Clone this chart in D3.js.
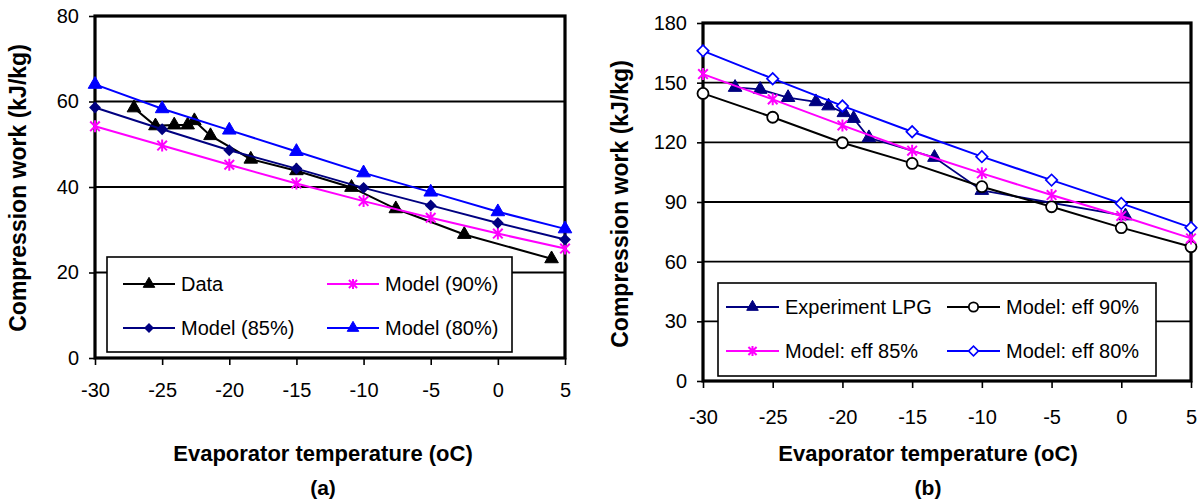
<!DOCTYPE html>
<html>
<head>
<meta charset="utf-8">
<script src="https://cdn.jsdelivr.net/npm/d3@7"></script>
<style>
  body { margin: 0; background: #fff; }
  text { font-family: "Liberation Sans", Arial, sans-serif; fill: #000; }
</style>
</head>
<body>
<script>
// ---- data ----
var temps = [-30, -25, -20, -15, -10, -5, 0, 5];
var xTicks = [-30, -25, -20, -15, -10, -5, 0, 5];

// panel (a)
var dataT  = [-27.1, -25.5, -24.1, -23.1, -22.6, -21.4, -18.4, -15.0, -10.9, -7.6, -2.5, 4.0];
var dataW  = [58.5, 54.3, 54.5, 54.5, 55.5, 52, 46.5, 43.8, 39.9, 34.9, 28.9, 23.2];
var model90a = [54.2, 49.7, 45.2, 40.8, 36.7, 32.8, 29.1, 25.6];
var model85a = [58.6, 53.5, 48.6, 44.3, 39.8, 35.7, 31.6, 27.7];
var model80a = [64.0, 58.3, 53.3, 48.3, 43.3, 38.8, 34.2, 30.2];
var yTicksA = [0, 20, 40, 60, 80];

// panel (b)
var expT = [-27.7, -25.9, -23.9, -21.9, -21.0, -19.9, -19.2, -18.1, -13.4, -10.0, 0.3];
var expW = [147.6, 146.6, 142.5, 140.4, 138.3, 134.9, 132, 122.3, 112.4, 95.8, 83];
var model90b = [144.6, 132.6, 119.8, 109.4, 97.7, 87.6, 77.1, 67.5];
var model85b = [154.3, 141.6, 128.5, 115.8, 104.4, 93.5, 83, 71.7];
var model80b = [166, 152, 138.3, 125.3, 112.8, 101, 89.3, 77.1];
var yTicksB = [0, 30, 60, 90, 120, 150, 180];

var W = 1198, H = 504;
var svg = d3.select("body").append("svg").attr("width", W).attr("height", H);

function zip(xs, ys) { return xs.map(function(x, i){ return [x, ys[i]]; }); }

// marker drawing
function marker(g, type, color, s) {
  s = s || 1;
  if (type == "triangle") {
    g.append("path").attr("d", d3.symbol(d3.symbolTriangle, 80 * s * s)())
      .attr("fill", color).attr("stroke", color).attr("stroke-width", 1);
  } else if (type == "diamond") {
    g.append("path").attr("d", d3.symbol(d3.symbolSquare, 70 * s * s)())
      .attr("transform", "rotate(45)").attr("fill", color);
  } else if (type == "odiamond") {
    g.append("path").attr("d", d3.symbol(d3.symbolSquare, 66 * s * s)())
      .attr("transform", "rotate(45)").attr("fill", "#fff")
      .attr("stroke", color).attr("stroke-width", 1.7);
  } else if (type == "circle") {
    g.append("circle").attr("r", 5.5 * s).attr("fill", "#fff")
      .attr("stroke", color).attr("stroke-width", 1.8);
  } else if (type == "asterisk") {
    var r = 6 * s;
    var p = d3.path();
    p.moveTo(0, -r); p.lineTo(0, r);
    p.moveTo(-r * 0.8, -r * 0.8); p.lineTo(r * 0.8, r * 0.8);
    p.moveTo(-r * 0.8, r * 0.8); p.lineTo(r * 0.8, -r * 0.8);
    g.append("path").attr("d", p.toString()).attr("stroke", color)
      .attr("stroke-width", 2).attr("fill", "none");
  }
}

function drawPanel(cfg) {
  var x = d3.scaleLinear().domain([-30, 5]).range(cfg.xr);
  var y = d3.scaleLinear().domain([cfg.yTicks[0], cfg.yTicks[cfg.yTicks.length - 1]]).range(cfg.yr);
  var g = svg.append("g");

  // gridlines
  g.selectAll(".grid").data(cfg.yTicks.slice(1, -1)).enter().append("line")
    .attr("x1", cfg.xr[0]).attr("x2", cfg.xr[1])
    .attr("y1", function(d){ return y(d); }).attr("y2", function(d){ return y(d); })
    .attr("stroke", "#000").attr("stroke-width", 1.8);

  // axes (ticks + labels); plain hyphen minus like the original
  var fmt = function(d){ return String(d); };
  var ya = g.append("g").attr("transform", "translate(" + cfg.xr[0] + ",0)")
    .call(d3.axisLeft(y).tickValues(cfg.yTicks).tickFormat(fmt).tickSize(6).tickPadding(10));
  var xa = g.append("g").attr("transform", "translate(0," + cfg.yr[0] + ")")
    .call(d3.axisBottom(x).tickValues(xTicks).tickFormat(fmt).tickSize(7).tickPadding(cfg.xPad));
  [ya, xa].forEach(function(a){
    a.select(".domain").remove();
    a.selectAll(".tick line").attr("stroke", "#000").attr("stroke-width", 1.6);
    a.selectAll(".tick text").style("font-size", "20px")
      .style("font-family", "'Liberation Sans', Arial, sans-serif");
  });

  // frame
  g.append("rect").attr("x", cfg.xr[0]).attr("y", cfg.yr[1])
    .attr("width", cfg.xr[1] - cfg.xr[0]).attr("height", cfg.yr[0] - cfg.yr[1])
    .attr("fill", "none").attr("stroke", "#000").attr("stroke-width", 3.2);

  var line = d3.line().x(function(d){ return x(d[0]); }).y(function(d){ return y(d[1]); });

  cfg.series.forEach(function(s){
    var pts = zip(s.t, s.v);
    g.append("path").attr("d", line(pts)).attr("fill", "none")
      .attr("stroke", s.color).attr("stroke-width", s.lw || 2);
    pts.forEach(function(p){
      var m = g.append("g").attr("transform", "translate(" + x(p[0]) + "," + y(p[1]) + ")");
      marker(m, s.marker, s.color, s.ms);
    });
  });

  // legend
  var L = cfg.legend;
  g.append("rect").attr("x", L.x0).attr("y", L.y0).attr("width", L.x1 - L.x0).attr("height", L.y1 - L.y0)
    .attr("fill", "#fff").attr("stroke", "#000").attr("stroke-width", 1.6);
  cfg.series.forEach(function(s, i){
    var col = i % 2, row = Math.floor(i / 2);
    var lx = L.cols[col], ly = L.rows[row];
    var it = g.append("g").attr("transform", "translate(" + lx + "," + ly + ")");
    it.append("line").attr("x1", 0).attr("x2", L.len).attr("stroke", s.color).attr("stroke-width", s.lw || 2);
    marker(it.append("g").attr("transform", "translate(" + (L.len / 2) + ",0)"), s.marker, s.color, 0.85);
    it.append("text").attr("x", L.len + 6).attr("dy", "0.35em").style("font-size", "20px").text(s.name);
  });

  // titles
  g.append("text").attr("x", cfg.xTitle[0]).attr("y", cfg.xTitle[1]).attr("text-anchor", "middle")
    .style("font-size", "22px").style("font-weight", "bold").text("Evaporator temperature (oC)");
  g.append("text").attr("x", cfg.xTitle[0]).attr("y", cfg.capY).attr("text-anchor", "middle")
    .style("font-size", "21px").style("font-weight", "bold").text(cfg.caption);
  g.append("text").attr("transform", "translate(" + cfg.yTitle[0] + "," + cfg.yTitle[1] + ") rotate(-90)")
    .attr("text-anchor", "middle").style("font-size", "23px").style("font-weight", "bold")
    .text("Compression work (kJ/kg)");
}

drawPanel({
  xr: [95, 565], yr: [358, 16], yTicks: yTicksA, xPad: 18,
  series: [
    { name: "Data", t: dataT, v: dataW, color: "#000000", marker: "triangle" },
    { name: "Model (90%)", t: temps, v: model90a, color: "#FF00FF", marker: "asterisk" },
    { name: "Model (85%)", t: temps, v: model85a, color: "#000080", marker: "diamond" },
    { name: "Model (80%)", t: temps, v: model80a, color: "#0000FF", marker: "triangle" }
  ],
  legend: { x0: 107, x1: 512, y0: 257, y1: 352, cols: [123, 327], rows: [284, 328], len: 52 },
  xTitle: [323, 461], capY: 495, caption: "(a)", yTitle: [26, 188]
});

drawPanel({
  xr: [703, 1191], yr: [381, 23], yTicks: yTicksB, xPad: 22,
  series: [
    { name: "Experiment LPG", t: expT, v: expW, color: "#000080", marker: "triangle", lw: 1.8 },
    { name: "Model: eff 90%", t: temps, v: model90b, color: "#000000", marker: "circle" },
    { name: "Model: eff 85%", t: temps, v: model85b, color: "#FF00FF", marker: "asterisk" },
    { name: "Model: eff 80%", t: temps, v: model80b, color: "#0000FF", marker: "odiamond" }
  ],
  legend: { x0: 718, x1: 1156, y0: 283, y1: 376, cols: [726, 947], rows: [307, 351], len: 53 },
  xTitle: [928, 461], capY: 495, caption: "(b)", yTitle: [628, 204]
});
</script>
</body>
</html>
